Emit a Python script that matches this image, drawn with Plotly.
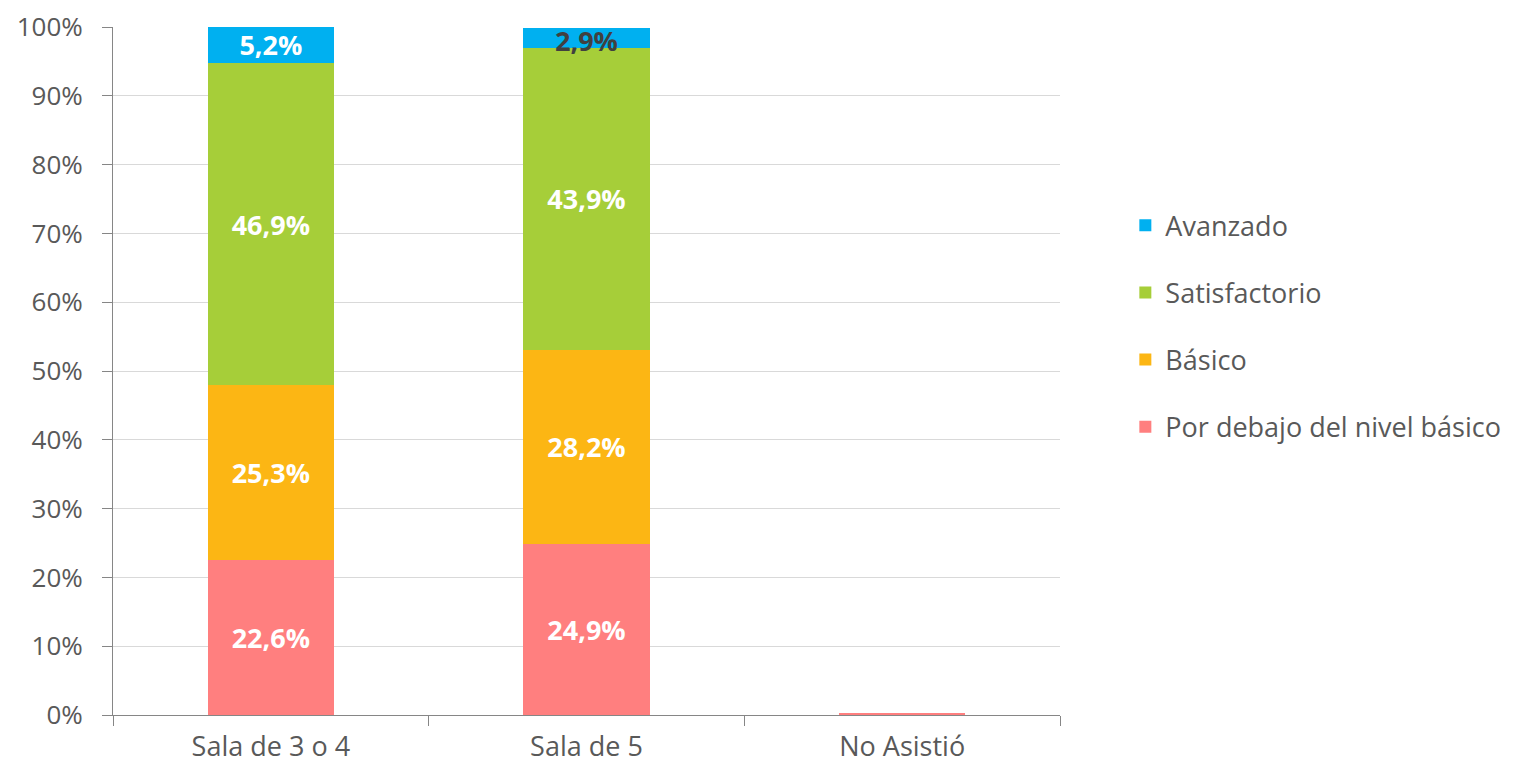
import plotly.graph_objects as go

categories = ["Sala de 3 o 4", "Sala de 5", "No Asistió"]
series_names = ["Por debajo del nivel básico", "Básico", "Satisfactorio", "Avanzado"]
por_debajo = [22.6, 24.9, 0.3]
basico = [25.3, 28.2, 0.0]
satisfactorio = [46.9, 43.9, 0.0]
avanzado = [5.2, 2.9, 0.0]
y_ticks = [0, 10, 20, 30, 40, 50, 60, 70, 80, 90, 100]

colors = ["#FF7F7F", "#FCB614", "#A6CE39", "#00B0F0"]
values = [por_debajo, basico, satisfactorio, avanzado]
ranks = [4, 3, 2, 1]

def fmt(v):
    return ("%.1f%%" % v).replace(".", ",") if v >= 1 else ""

LABEL_FONT = "Open Sans, sans-serif"
fig = go.Figure()
small_labels = []
for i, (name, vals, col) in enumerate(zip(series_names, values, colors)):
    texts = []
    for j, v in enumerate(vals):
        if 1 <= v < 4:
            base = sum(values[k][j] for k in range(i))
            small_labels.append((categories[j], base + v / 2, fmt(v)))
            texts.append("")
        else:
            texts.append(fmt(v))
    fig.add_trace(go.Bar(
        x=categories, y=vals, name=name, marker=dict(color=col, line=dict(width=0)),
        text=texts, textposition="inside", insidetextanchor="middle",
        constraintext="none",
        textfont=dict(family=LABEL_FONT, size=27, color="white", weight="bold"),
        legendgroup=name, legendrank=ranks[i], hoverinfo="skip",
    ))

for cx, cy, t in small_labels:
    fig.add_annotation(x=cx, y=cy, text=t, showarrow=False, yshift=-3,
                       font=dict(family=LABEL_FONT, size=27, color="#404040", weight="bold"))

fig.update_layout(
    barmode="stack", bargap=0.6,
    width=1508, height=761,
    margin=dict(l=105, r=456, t=19, b=54, autoexpand=False),
    paper_bgcolor="white", plot_bgcolor="white",
    font=dict(family="Open Sans, sans-serif", color="#595959", size=22),
    legend=dict(x=1.069, y=0.565, xanchor="left", yanchor="middle",
                traceorder="grouped", tracegroupgap=29,
                font=dict(size=27, color="#595959"), itemwidth=30),
    showlegend=True,
)
fig.update_yaxes(range=[0, 100], tickvals=y_ticks, ticktext=[f"{t}%" for t in y_ticks],
                 showgrid=True, gridcolor="#D9D9D9", gridwidth=1,
                 showline=True, linecolor="#868686", linewidth=1,
                 ticks="outside", ticklen=10, tickcolor="#868686",
                 ticklabelstandoff=14,
                 tickfont=dict(size=26, color="#595959"), zeroline=False, automargin=False)
fig.update_xaxes(showline=True, linecolor="#868686", linewidth=1,
                 ticks="outside", ticklen=10, tickcolor="#868686",
                 tickson="boundaries", automargin=False, ticklabelstandoff=8,
                 tickfont=dict(size=27, color="#595959"))

fig.write_html("out.html")
